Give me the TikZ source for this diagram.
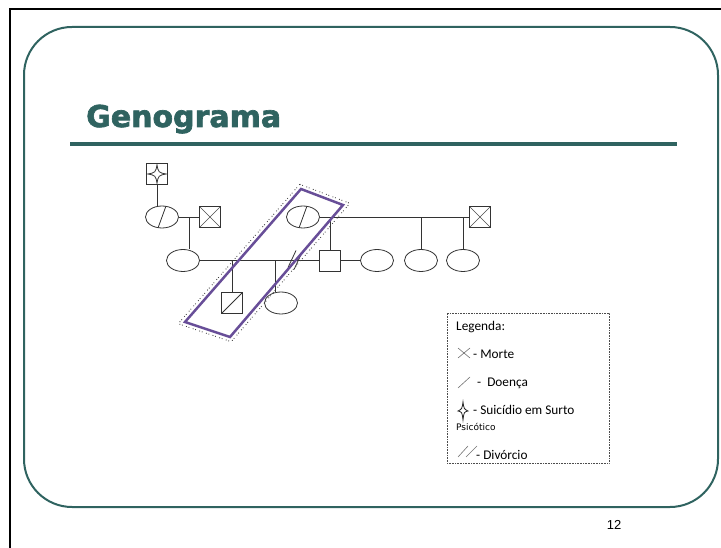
\documentclass[tikz,border=0pt]{standalone}
\usepackage{fontspec}
\setmainfont{Liberation Sans}
\newfontfamily\legfont{Carlito}
\newfontfamily\dvfont{DejaVu Sans}
\newfontfamily\titlefont[BoldFeatures={FakeBold=2.2}]{DejaVu Sans}
\usetikzlibrary{shapes.geometric}
\definecolor{slidegreen}{RGB}{47,99,96}
\definecolor{markpurple}{RGB}{104,78,152}
\tikzset{
  fem/.style={ellipse, draw=black!80, line width=0.8pt, minimum width=33pt, minimum height=22pt, inner sep=0pt},
  male/.style={rectangle, draw=black!80, line width=0.8pt, minimum size=21pt, inner sep=0pt},
  ill/.style={path picture={\draw[black!80, line width=0.8pt] ([xshift=-4pt]path picture bounding box.south) -- ([xshift=4pt]path picture bounding box.north);}},
  illsq/.style={path picture={\draw[black!80, line width=0.8pt] (path picture bounding box.south west) -- (path picture bounding box.north east);}},
  dead/.style={path picture={\draw[black!70, line width=0.6pt] (path picture bounding box.south west) -- (path picture bounding box.north east) (path picture bounding box.north west) -- (path picture bounding box.south east);}},
  suicide/.style={path picture={\draw[black!80, line width=0.8pt, shift={(path picture bounding box.center)}] (0,-9) .. controls (1.5,-1.5) .. (9,0) .. controls (1.5,1.5) .. (0,9) .. controls (-1.5,1.5) .. (-9,0) .. controls (-1.5,-1.5) .. (0,-9) -- cycle;}},
  tie/.style={draw=black!80, line width=0.8pt},
  legtext/.style={anchor=west, inner sep=0pt, font=\legfont\fontsize{13.3}{16}\selectfont},
}
\begin{document}
\begin{tikzpicture}[x=1pt,y=-1pt]
\useasboundingbox (0,0) rectangle (721,548);
% slide frame and title
\draw[line width=2.4pt] (10,548) -- (10,9) -- (721,9);
\draw[slidegreen, line width=2pt, rounded corners=48pt] (24,27) rectangle (718,507);
\node[anchor=base west, inner sep=0pt, text=slidegreen, font=\titlefont\bfseries\fontsize{30}{36}\selectfont] (title) at (86,127) {Genograma};
\draw[slidegreen, line width=4.5pt] (70,144) -- (677,144);
% persons
\node[male, suicide] (pid0) at (157,174) {};
\node[fem, ill] (pid1) at (162,217) {};
\node[male, dead] (pid2) at (210,217) {};
\node[fem] (pid3) at (183,260.5) {};
\node[fem, ill] (pid4) at (303,217) {};
\node[male, dead] (pid5) at (480,217) {};
\node[male] (pid6) at (330,260.5) {};
\node[fem] (pid7) at (377,260.5) {};
\node[fem] (pid8) at (421,260.5) {};
\node[fem] (pid9) at (463,260.5) {};
\node[male, illsq] (pid10) at (232,303) {};
\node[fem] (pid11) at (281,303) {};
\coordinate (m1) at (189,217);
\coordinate (k1) at (232,260.5);
\coordinate (k2) at (275,260.5);
\coordinate (dv) at (294,260.5);
% family lines
\draw[tie] (pid0) -- (pid0 |- pid1.north);
\draw[tie] (pid1) -- (pid2);
\draw[tie] (m1) -- (m1 |- pid3.north);
\draw[tie] (pid3) -- (pid6);
\draw[tie] (k1) -- (pid10);
\draw[tie] (k2) -- (k2 |- pid11.north);
\draw[tie] ([shift={(-6,7)}]dv) -- ([shift={(2,-10)}]dv);
\draw[tie] ([shift={(0,9)}]dv) -- ([shift={(8,-8)}]dv);
\draw[tie] (pid4) -- (pid5);
\draw[tie] (pid6) -- (pid6 |- pid4);
\draw[tie] (pid8) -- (pid8 |- pid4);
\draw[tie] (pid9) -- (pid9 |- pid4);
\draw[tie] (pid6) -- (pid7);
% marked branch
\draw[black!75, line width=0.9pt, dash pattern=on 0.8pt off 1.8pt on 0.8pt off 3.6pt] (299.8,184.3) -- (349.8,203.3) -- (231.2,341.7) -- (178.2,323.7) -- cycle;
\draw[markpurple, line width=2.5pt, line join=miter] (301,189) -- (343,205) -- (230,337) -- (185,322) -- cycle;
% legend
\node[draw=black!70, line width=0.6pt, densely dotted, minimum width=162pt, minimum height=150pt, inner sep=0pt] (leg) at (528,388) {};
\node[legtext] (leg0) at (456,327) {Legenda:};
\draw[black!55, line width=0.6pt] (458,348) -- (470,358) (458,358) -- (470,348);
\node[legtext] (leg1) at (473,354) {- Morte};
\draw[black!55, line width=0.6pt] (458,388) -- (470,377);
\node[legtext] (leg2) at (477,383) {-\ \ Doença};
\draw[black!85, line width=0.8pt] (463,402) .. controls (464,409) .. (468,411) .. controls (464,412) .. (463,420) .. controls (462,412) .. (458,411) .. controls (462,409) .. (463,402) -- cycle;
\node[legtext] (leg3) at (473,410) {- Suicídio em Surto};
\node[anchor=west, inner sep=0pt, font=\dvfont\fontsize{9}{11}\selectfont] (leg4) at (456,427) {Psicótico};
\draw[black!55, line width=0.6pt] (458,457) -- (468,446) (466,457) -- (477,446);
\node[legtext] (leg5) at (476,455) {- Divórcio};
\node[inner sep=0pt, font=\fontsize{13}{15}\selectfont] (page) at (614,525) {12};
\end{tikzpicture}
\end{document}
